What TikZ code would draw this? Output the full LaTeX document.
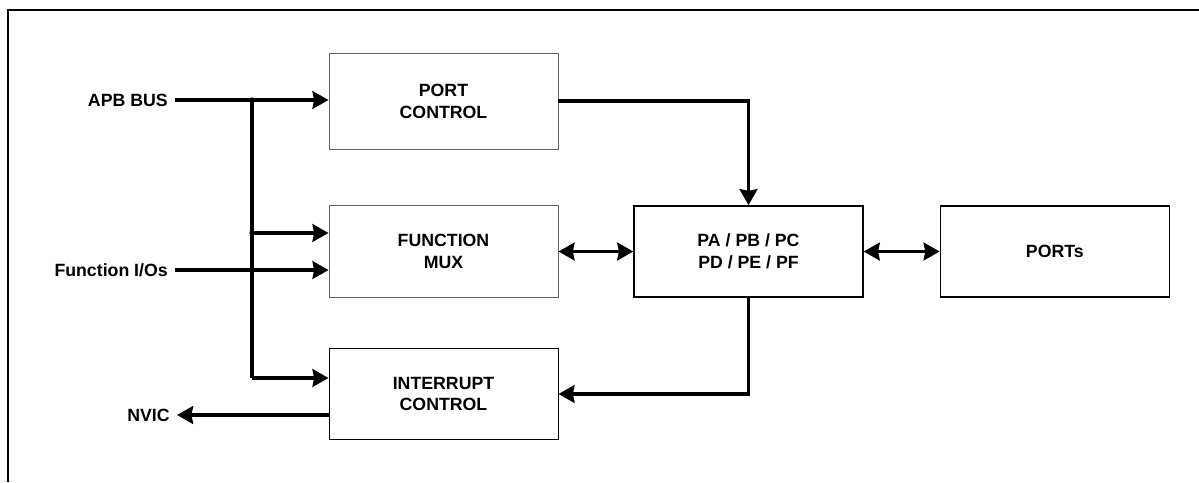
\documentclass[tikz,border=0pt]{standalone}
\usepackage{fontspec}
\setmainfont{Liberation Sans}
\usepackage{tikz}
\usetikzlibrary{arrows.meta, positioning}

\begin{document}
\begin{tikzpicture}[
    x=0.025cm, y=-0.025cm,
    font=\fontsize{12.6}{15.6}\selectfont\bfseries,
    box/.style={rectangle, draw=black, line width=0.6pt, text centered, align=center, minimum width=5.725cm, minimum height=2.28cm, inner sep=0pt},
    softbox/.style={box, draw=black!62},
    lbl/.style={anchor=east, inner sep=0.175cm},
    arrow/.style={-{Stealth[length=0.4cm, width=0.44cm, inset=0.04cm]}, line width=2.8pt},
    biarrow/.style={{Stealth[length=0.4cm, width=0.44cm, inset=0.04cm]}-{Stealth[length=0.4cm, width=0.44cm, inset=0.04cm]}, line width=2.8pt},
    wire/.style={line width=2.8pt}
]
\useasboundingbox (0,0) rectangle (1199,482);

% Frame
\draw[line width=1.7pt] (8,482) -- (8,10) -- (1199,10);

% Blocks
\node[softbox, minimum height=2.4cm] (port) at (443.5,101) {PORT\\CONTROL};
\node[softbox] (mux) at (443.5,251.5) {FUNCTION\\MUX};
\node[box] (intr) at (443.5,394) {INTERRUPT\\CONTROL};
\node[box, line width=0.9pt] (pa) at (748.5,251.5) {PA / PB / PC\\PD / PE / PF};
\node[box, line width=0.9pt, right=1.9cm of pa] (ports) {PORTs};

% Signals
\node[lbl] (apb) at (175,100) {APB BUS};
\node[lbl] (fio) at (175,270) {Function I/Os};
\node[lbl] (nvic) at (177,415) {NVIC};

\coordinate (j1) at (252,100);
\coordinate (j2) at (252,233);
\coordinate (j3) at (252,378);

% Arrows
\draw[arrow] (apb.east) -- (apb.east -| port.west);
\draw[wire] (j1) -- (j3);
\draw[arrow] (j2) -- (j2 -| mux.west);
\draw[arrow] (j3) -- (j3 -| intr.west);
\fill (j1) circle (2.6);
\fill (j2) circle (2.6);
\draw[arrow] (fio.east) -- (fio.east -| mux.west);
\draw[arrow] (nvic.east -| intr.west) -- (nvic.east);
\draw[arrow] (port.east) -| (pa.north);
\draw[biarrow] (mux.east) -- (pa.west);
\draw[biarrow] (pa.east) -- (ports.west);
\draw[arrow] (pa.south) |- (intr.east);

\end{tikzpicture}
\end{document}
